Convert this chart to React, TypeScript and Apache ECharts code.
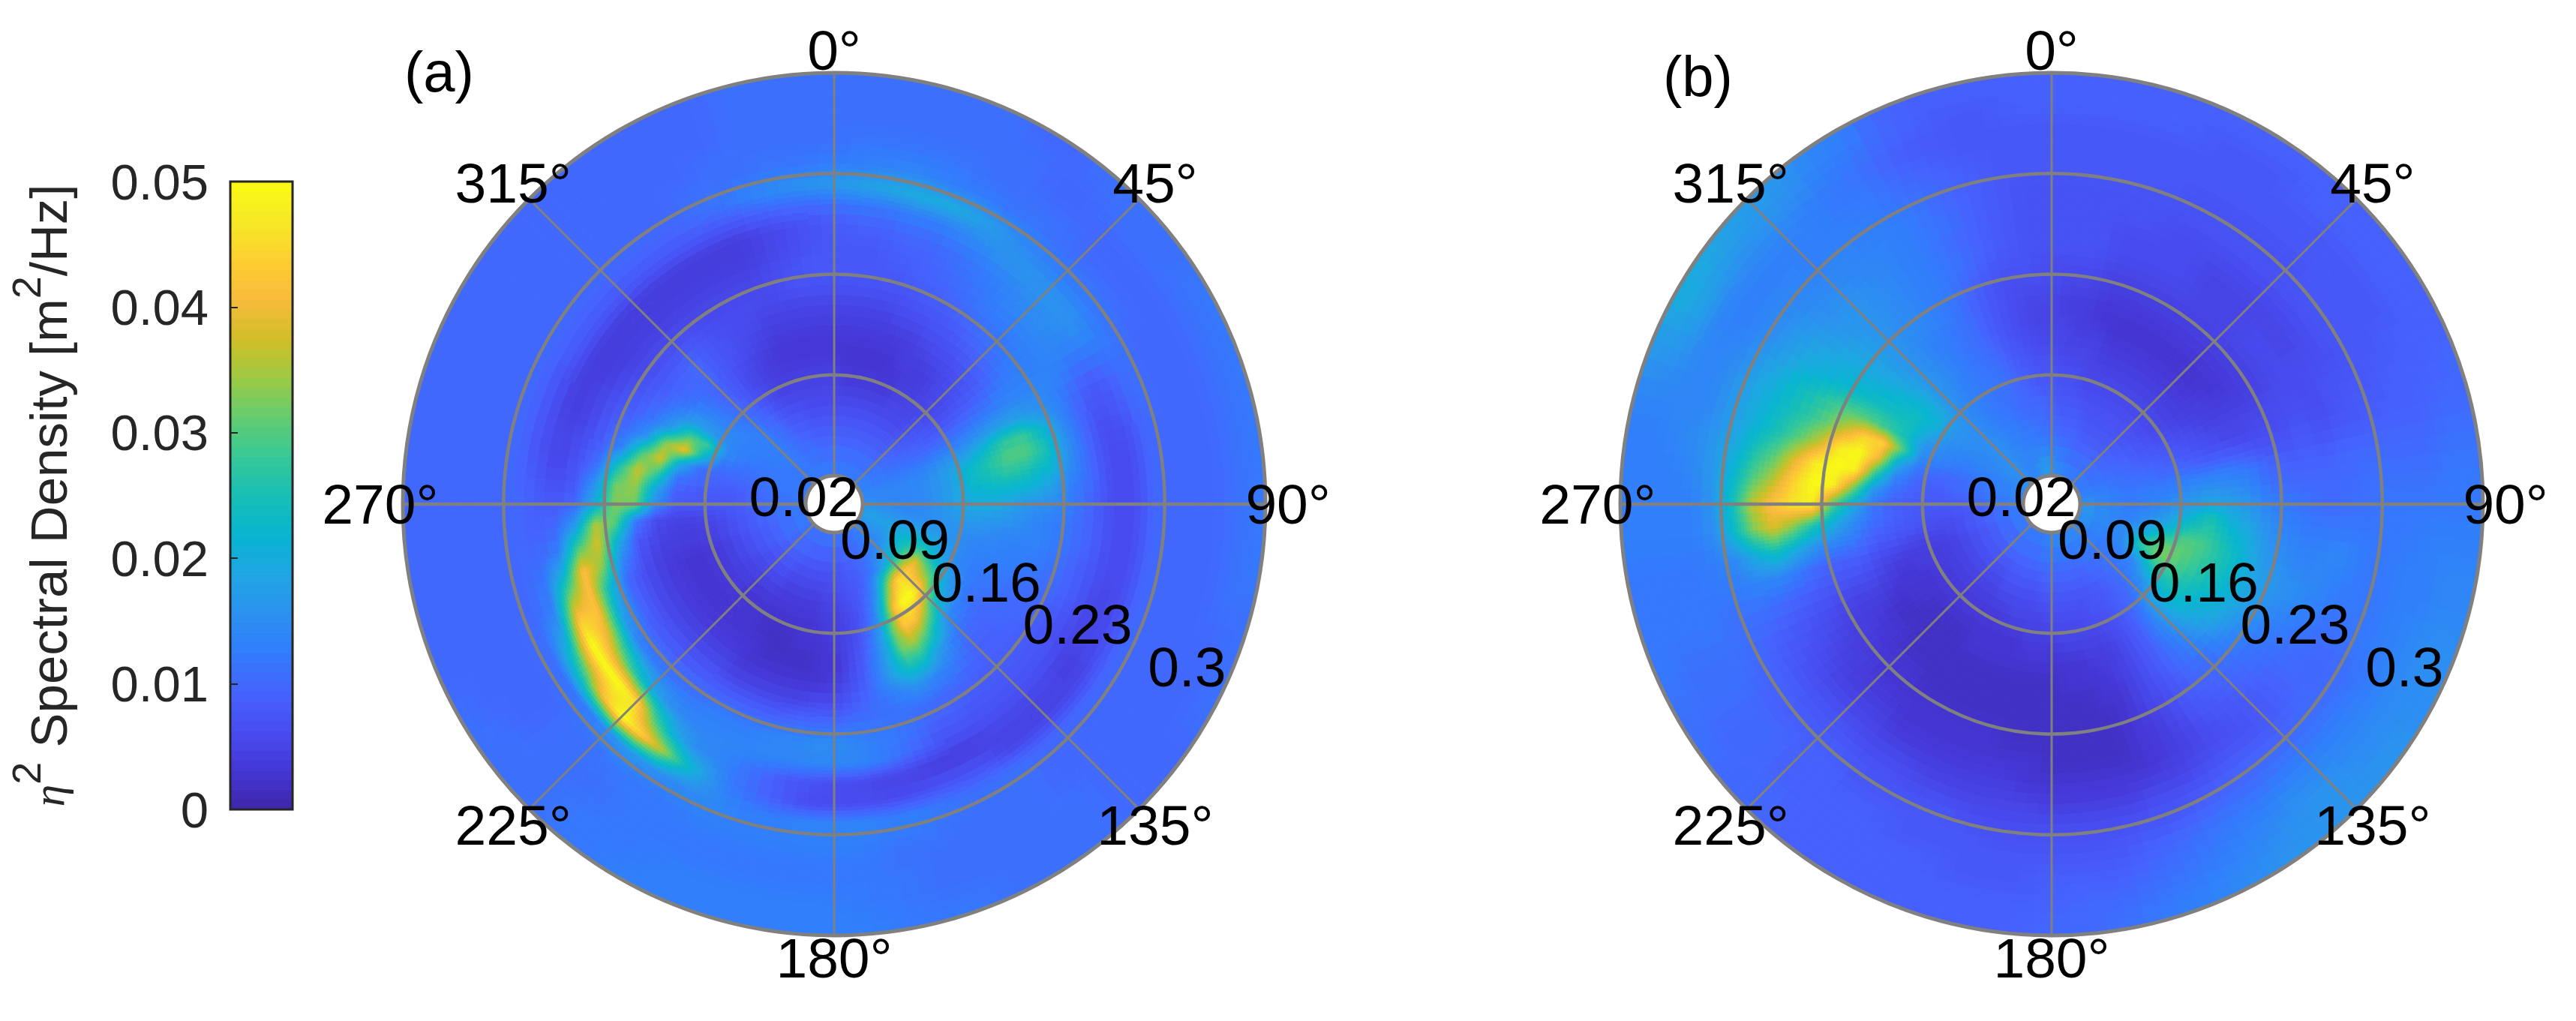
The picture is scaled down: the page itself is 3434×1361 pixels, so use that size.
import React, { useEffect, useRef } from "react";
import * as echarts from "echarts";

const FONT = "Liberation Sans";
const GRID_GRAY = "#808080";

// frequency of each ring of values, Hz
const freqs = [
  0.027, 0.041, 0.055, 0.069, 0.083, 0.097, 0.111, 0.125, 0.139, 0.153, 0.167,
  0.181, 0.195, 0.209, 0.223, 0.237, 0.251, 0.265, 0.279, 0.293,
];
const angleStep = 5;
const radiusTicks = [0.02, 0.09, 0.16, 0.23, 0.3];
const radiusTickLabels = ["0.02", "0.09", "0.16", "0.23", "0.3"];
const angleTicks = [0, 45, 90, 135, 180, 225, 270, 315];
const barTicks = [0, 0.01, 0.02, 0.03, 0.04, 0.05];

// bottom to top of the colour bar
const colormap = [
  "#3e26a8", "#4537d5", "#484df0", "#4563fd", "#327cfc", "#2b91ef", "#20a5e3",
  "#08b5d0", "#18bfb5", "#37c897", "#64cd6f", "#9dc943", "#d1bf27", "#f8ba3d",
  "#fccf30", "#f5e924", "#fbfb14",
];

// spectral density in 0.001 m2/Hz: one row per direction (0, 5, 10 ... 355 deg), one value per freq
const spokesA = [
  [12,10,8,6,5,4,3,4,5,7,8,8,8,11,17,13,11,11,11,11],
  [12,10,8,6,4,3,3,4,5,7,8,8,9,12,18,13,12,11,11,11],
  [12,10,8,6,4,3,3,4,5,7,8,8,9,12,19,14,12,11,11,11],
  [12,10,8,6,4,3,3,4,5,7,8,9,10,13,20,14,12,11,11,11],
  [12,10,8,6,4,3,3,4,6,7,9,9,10,13,20,13,12,11,11,11],
  [12,10,8,6,4,3,4,4,6,8,9,10,11,14,19,13,11,11,11,11],
  [12,10,8,6,5,4,4,5,7,8,10,11,12,15,17,12,11,11,11,10],
  [12,10,8,6,5,4,4,6,7,9,11,12,13,16,15,12,11,10,10,10],
  [12,10,8,6,5,5,5,6,8,10,12,13,14,16,14,11,11,10,10,11],
  [12,10,9,7,6,5,6,7,9,11,12,14,15,16,13,11,10,10,11,11],
  [13,11,9,8,7,6,7,8,10,12,13,14,15,16,13,11,10,10,11,11],
  [13,11,10,9,8,8,9,10,12,13,13,14,14,15,12,11,10,10,11,11],
  [13,12,11,10,10,11,12,13,14,14,14,13,11,12,12,10,10,10,11,12],
  [13,12,12,12,13,14,16,18,18,16,14,11,8,9,11,10,10,10,11,12],
  [14,13,13,14,16,18,22,27,28,22,15,10,7,8,11,10,10,10,11,12],
  [14,14,14,15,18,22,26,30,30,25,16,10,6,7,10,10,10,10,11,12],
  [14,14,14,15,18,23,25,27,25,22,15,10,6,6,10,10,10,10,11,12],
  [15,14,14,15,18,21,22,22,21,18,13,10,6,6,10,10,10,10,11,12],
  [15,14,14,15,18,20,20,18,16,15,12,9,6,6,10,10,10,10,11,12],
  [16,15,14,15,17,18,17,16,14,13,11,9,6,6,10,10,10,10,11,12],
  [17,16,15,15,16,16,15,14,14,13,11,9,6,6,10,10,10,10,11,12],
  [18,17,17,17,16,14,14,13,13,12,10,8,6,6,10,10,10,10,11,11],
  [18,18,20,20,17,14,13,13,12,11,10,8,5,6,10,10,10,10,10,11],
  [17,18,22,24,18,14,12,12,11,10,9,7,5,6,10,10,10,10,10,11],
  [16,17,24,30,22,15,12,11,10,10,8,6,5,6,10,10,10,10,10,11],
  [15,16,24,38,28,17,12,10,10,9,8,7,4,5,10,10,10,10,10,10],
  [14,15,24,42,35,20,13,10,9,9,8,7,5,5,10,10,10,10,10,10],
  [14,14,22,44,44,26,15,11,9,9,8,7,5,5,10,10,10,10,10,10],
  [13,13,19,45,50,36,22,14,11,9,8,7,5,5,10,10,10,11,11,11],
  [12,12,16,38,50,43,30,18,13,10,8,7,5,5,11,11,11,11,11,11],
  [12,11,13,27,42,43,35,24,14,10,9,7,4,7,11,11,11,11,11,11],
  [11,10,11,16,26,32,32,25,16,11,9,7,4,7,11,11,11,11,11,11],
  [11,10,9,11,14,18,20,20,14,11,11,9,4,7,12,11,11,11,11,12],
  [11,9,8,8,9,11,13,14,12,11,12,11,5,6,13,12,11,11,11,12],
  [11,9,8,7,6,7,8,9,10,11,13,13,5,6,13,12,11,12,12,12],
  [11,8,7,6,5,5,5,6,8,11,14,14,6,6,14,13,12,12,12,13],
  [11,8,7,5,4,4,3,4,6,10,15,14,6,6,14,13,12,12,13,13],
  [11,8,6,5,4,3,3,3,6,10,15,14,7,6,14,13,12,12,13,13],
  [11,8,6,4,3,3,2,3,5,10,14,14,8,8,13,13,12,12,13,13],
  [11,8,6,4,3,3,2,3,5,9,14,14,10,10,13,13,12,12,13,13],
  [11,8,6,4,3,2,2,3,5,9,13,14,12,12,14,13,12,12,13,13],
  [11,8,6,4,3,2,2,3,5,9,13,14,14,17,15,13,12,12,13,13],
  [11,9,6,4,3,2,3,3,5,9,13,14,15,24,15,12,12,12,12,13],
  [11,9,7,5,3,3,3,4,6,9,12,14,20,36,16,12,12,12,12,12],
  [11,9,7,5,3,3,3,4,6,9,12,16,30,44,17,12,11,11,12,12],
  [11,9,7,5,3,3,3,4,6,9,12,20,45,50,15,11,11,11,11,11],
  [11,9,7,5,4,3,3,4,6,9,13,26,50,42,13,11,11,11,11,11],
  [12,10,7,5,4,3,3,4,6,9,14,32,50,32,12,10,10,10,11,11],
  [12,10,8,6,4,3,3,4,6,10,17,38,50,26,11,10,10,10,10,11],
  [12,10,8,6,4,3,3,4,6,10,20,42,44,18,11,10,10,10,10,10],
  [12,10,8,6,4,3,3,4,6,10,24,42,34,13,10,10,10,10,10,10],
  [12,10,9,7,5,4,4,4,7,14,33,42,22,12,10,10,10,10,10,10],
  [12,11,9,7,5,4,4,5,8,20,38,30,13,10,10,10,10,10,10,10],
  [12,11,9,8,6,5,5,6,12,30,36,18,10,9,10,10,10,10,10,10],
  [12,11,10,8,8,8,8,15,32,33,20,10,8,9,10,10,10,10,10,10],
  [12,11,10,8,8,8,9,19,34,32,16,8,6,8,10,10,10,10,10,10],
  [12,11,10,9,9,10,12,28,37,25,11,7,5,7,10,10,10,10,10,10],
  [12,12,11,10,10,11,20,38,29,14,9,6,5,7,10,10,10,10,10,10],
  [12,12,11,11,12,22,40,33,16,11,8,5,4,7,10,10,10,10,10,10],
  [12,12,12,12,15,28,30,18,12,9,7,5,4,7,10,10,10,10,10,10],
  [12,12,12,13,14,17,18,14,10,8,6,4,4,8,10,10,10,10,10,10],
  [12,12,13,13,14,14,14,11,9,7,5,4,4,8,10,10,10,10,10,10],
  [12,12,13,13,13,12,11,10,9,7,5,4,4,8,10,10,10,10,10,10],
  [12,13,13,13,11,10,9,10,10,7,5,4,4,8,10,10,10,10,10,10],
  [12,12,12,11,10,8,8,8,8,7,5,4,4,8,10,10,10,10,10,10],
  [12,12,11,10,8,6,6,7,7,6,5,4,4,8,10,10,10,10,10,10],
  [12,11,10,8,6,5,5,6,6,6,5,4,4,8,10,10,10,10,10,10],
  [12,11,9,7,5,4,4,5,6,6,5,4,4,8,11,11,10,10,10,10],
  [12,11,9,7,5,4,3,4,5,6,5,4,4,8,12,11,11,10,10,10],
  [12,10,8,6,5,4,3,4,5,6,6,5,5,9,14,11,11,11,11,11],
  [12,10,8,6,5,4,3,4,5,7,7,6,6,10,15,12,11,11,11,11],
  [12,10,8,6,5,4,3,4,5,7,8,7,7,10,16,12,11,11,11,11],
];

const spokesB = [
  [16,12,10,9,8,7,6,5,5,6,6,7,7,7,7,8,8,8,9,9],
  [15,12,10,8,7,6,5,5,4,5,6,7,7,7,7,8,8,8,9,9],
  [14,11,9,8,7,6,5,4,4,5,6,7,7,7,7,8,8,8,9,9],
  [14,11,9,8,6,5,5,4,3,4,5,6,6,7,7,8,8,8,9,9],
  [13,10,9,7,6,5,4,3,3,4,5,6,6,7,7,8,8,8,9,9],
  [13,10,8,7,6,5,4,3,3,4,5,6,6,6,7,7,8,8,8,9],
  [12,10,8,7,6,5,4,3,3,4,5,6,6,6,7,7,8,8,8,9],
  [12,10,8,7,6,5,4,3,3,4,5,5,5,6,7,7,8,8,8,9],
  [12,10,8,7,6,5,4,3,3,4,5,5,5,6,7,7,8,8,9,9],
  [12,10,8,7,6,5,4,3,3,4,5,5,5,6,7,7,8,8,9,9],
  [12,10,9,7,6,5,4,3,3,4,5,6,5,6,7,8,8,8,9,9],
  [12,10,9,8,6,5,4,4,3,4,5,6,5,6,7,8,8,8,9,9],
  [12,11,10,8,7,6,5,4,4,4,5,6,6,6,7,8,8,8,9,9],
  [12,11,10,9,8,7,6,5,5,5,6,6,6,7,7,8,8,9,9,9],
  [13,12,11,10,9,8,7,6,5,6,6,7,6,7,8,8,9,9,9,10],
  [13,12,11,11,10,10,9,9,8,7,7,8,7,8,8,9,9,9,10,10],
  [14,13,12,12,12,13,13,13,12,10,9,9,9,10,10,10,10,10,11,11],
  [15,13,12,13,13,15,16,15,14,11,10,10,10,10,11,11,11,11,12,12],
  [15,13,12,13,15,17,19,18,16,13,12,11,10,11,11,12,12,12,12,12],
  [16,14,13,14,17,21,25,21,18,15,13,12,12,12,12,12,12,13,13,13],
  [16,14,13,16,20,25,27,23,20,16,14,13,14,14,12,12,13,13,14,14],
  [16,14,14,19,25,30,29,25,21,17,15,14,14,13,12,12,13,13,14,14],
  [15,14,15,24,31,31,28,25,21,18,16,15,14,12,12,12,13,14,15,15],
  [15,13,15,27,33,30,27,24,21,18,15,14,12,11,11,12,13,14,15,15],
  [15,13,14,20,28,28,25,22,20,17,14,12,11,10,10,11,12,14,15,15],
  [14,12,13,14,22,25,23,21,19,15,12,11,10,10,10,11,13,14,15,16],
  [14,12,12,13,16,21,21,19,16,13,11,10,9,9,10,11,13,14,15,16],
  [14,12,11,11,13,17,17,15,13,11,10,9,8,8,9,11,13,15,16,16],
  [14,12,11,10,10,12,13,12,11,10,9,8,7,7,9,11,13,15,16,16],
  [14,12,10,9,9,9,9,9,9,8,8,7,6,7,9,10,12,14,15,16],
  [14,12,10,8,8,7,7,7,7,6,6,5,5,6,8,10,12,13,14,15],
  [14,11,9,8,7,6,5,5,5,5,4,4,4,5,7,9,11,12,13,14],
  [14,11,9,7,7,5,4,4,3,3,3,3,3,5,7,8,10,11,12,13],
  [14,11,9,7,6,5,4,3,3,2,2,2,3,4,6,8,9,10,11,12],
  [14,11,9,7,6,5,3,3,2,2,2,2,3,4,6,7,8,9,10,11],
  [14,11,9,7,6,5,3,3,2,2,2,2,3,4,6,7,8,9,10,10],
  [14,11,9,7,6,4,3,2,2,2,2,2,3,4,6,7,8,9,9,10],
  [13,11,9,7,5,4,3,2,2,2,2,3,3,5,6,7,8,8,9,9],
  [13,11,8,6,5,4,3,2,2,2,2,3,4,5,6,7,8,8,9,9],
  [12,10,8,6,5,3,3,2,2,2,3,3,4,5,6,8,8,8,9,9],
  [12,10,8,6,5,3,3,2,2,2,3,3,4,5,7,8,8,9,9,9],
  [12,10,8,6,4,3,3,2,2,2,3,3,4,5,7,8,8,9,9,9],
  [12,10,8,6,4,3,3,2,2,2,3,3,4,6,7,8,9,9,9,9],
  [12,10,7,5,4,3,2,2,2,2,3,3,4,6,7,8,9,9,9,9],
  [12,10,7,5,4,3,2,2,2,3,3,4,5,6,8,9,9,9,9,9],
  [12,10,7,5,4,3,2,2,2,3,3,4,5,7,8,9,9,9,10,10],
  [12,9,7,5,4,3,2,2,3,3,4,4,5,7,8,9,10,10,10,10],
  [12,9,7,5,4,3,3,2,3,4,4,5,6,7,9,9,10,10,10,11],
  [12,9,7,5,4,3,3,3,4,4,5,6,7,8,9,10,11,11,11,11],
  [12,9,7,5,4,4,3,4,5,5,6,7,8,9,10,11,11,11,11,12],
  [12,9,7,5,4,4,4,5,7,7,8,9,10,11,11,11,12,12,12,12],
  [12,10,8,6,5,5,6,7,9,9,10,12,14,14,13,12,12,12,12,12],
  [12,10,8,6,6,7,8,9,12,14,16,20,24,20,15,13,12,12,12,12],
  [12,10,8,7,7,8,9,11,15,20,26,33,38,32,22,15,13,13,13,13],
  [13,11,9,8,8,8,9,12,20,30,48,46,42,36,24,16,13,13,13,13],
  [13,12,10,9,8,9,11,17,33,48,50,44,36,30,22,17,14,13,13,13],
  [13,12,11,10,9,10,14,28,48,50,47,39,31,26,20,17,15,14,13,13],
  [14,13,11,10,10,12,20,40,50,47,37,31,26,22,19,16,14,14,14,14],
  [14,13,12,12,13,15,30,44,44,37,31,27,24,21,19,16,14,14,15,16],
  [14,13,13,13,14,16,24,28,30,30,28,25,23,20,18,15,14,14,17,18],
  [15,14,14,14,15,19,24,24,24,23,22,21,20,18,16,14,13,14,18,20],
  [15,15,14,15,16,21,23,22,21,20,20,19,18,17,15,14,13,14,17,19],
  [15,15,15,15,16,19,20,19,18,18,18,17,16,15,14,14,13,14,16,18],
  [15,15,15,15,15,16,16,16,16,16,16,16,16,15,14,13,13,14,16,17],
  [15,15,15,14,14,14,15,15,14,15,15,15,15,14,14,13,13,13,15,16],
  [14,14,14,13,13,13,13,13,13,14,14,14,14,14,13,13,12,12,13,14],
  [14,14,13,12,12,12,12,12,12,13,13,13,13,13,13,12,12,11,12,13],
  [14,13,13,12,11,12,11,11,11,11,12,12,12,12,12,11,10,9,10,10],
  [15,13,12,11,11,11,10,9,9,9,10,11,10,11,10,10,9,8,9,9],
  [16,13,12,10,10,9,8,7,7,7,8,9,9,9,9,9,8,8,8,9],
  [17,13,11,10,9,8,7,6,6,6,7,8,8,8,8,8,8,8,8,9],
  [17,13,11,10,8,7,6,5,5,6,7,7,7,7,7,8,8,8,9,9],
];

const MAX_VALUE = 50; // top of the colour bar, in the units of the spokes

const parseHex = (h: string) => [1, 3, 5].map((i) => parseInt(h.slice(i, i + 2), 16));
const colormapRgb = colormap.map(parseHex);

function colorOf(value: number) {
  const t = Math.min(Math.max(value / MAX_VALUE, 0), 1) * (colormapRgb.length - 1);
  const lo = Math.min(Math.floor(t), colormapRgb.length - 2);
  const f = t - lo;
  const c = colormapRgb[lo].map((v, k) => Math.round(v + (colormapRgb[lo + 1][k] - v) * f));
  return `rgb(${c[0]},${c[1]},${c[2]})`;
}

// like MATLAB's "shading interp": the colour varies inside a cell between its four corner values
function renderShadedCell(rows: number[][]) {
  return (params: any, api: any) => {
    const ring = params.dataIndex % freqs.length;
    const spoke = Math.floor(params.dataIndex / freqs.length);
    const nextSpoke = (spoke + 1) % rows.length;
    const nextRing = Math.min(ring + 1, freqs.length - 1);
    const v00 = rows[spoke][ring];
    const v10 = rows[spoke][nextRing];
    const v01 = rows[nextSpoke][ring];
    const v11 = rows[nextSpoke][nextRing];
    const a0 = spoke * angleStep;
    const f0 = freqs[ring];
    const f1 = ring === freqs.length - 1 ? f0 + 1 : freqs[nextRing];
    const inner = ring === 0 ? radiusTicks[0] : f0;
    const outer = ring === freqs.length - 1 ? radiusTicks[4] : f1;

    const nr = Math.min(Math.max(2, Math.ceil(Math.max(Math.abs(v10 - v00), Math.abs(v11 - v01)) / 1.5)), 7);
    const na = Math.min(Math.max(2, Math.ceil(Math.max(Math.abs(v01 - v00), Math.abs(v11 - v10)) / 1.5)), 7);
    const children: any[] = [];
    for (let i = 0; i < nr; i++) {
      const fa = inner + ((outer - inner) * i) / nr;
      const fb = inner + ((outer - inner) * (i + 1)) / nr;
      const t = Math.min(Math.max(((fa + fb) / 2 - f0) / (f1 - f0), 0), 1);
      for (let j = 0; j < na; j++) {
        const u = (j + 0.5) / na;
        const value = (1 - t) * (1 - u) * v00 + t * (1 - u) * v10 + (1 - t) * u * v01 + t * u * v11;
        const aa = a0 + (angleStep * j) / na;
        const ab = a0 + (angleStep * (j + 1)) / na;
        const color = colorOf(value);
        children.push({
          type: "polygon",
          shape: {
            points: [
              api.coord([fa, aa]).slice(0, 2),
              api.coord([fb, aa]).slice(0, 2),
              api.coord([fb, ab]).slice(0, 2),
              api.coord([fa, ab]).slice(0, 2),
            ],
          },
          style: { fill: color, stroke: color, lineWidth: 1 },
        });
      }
    }
    return { type: "group", children };
  };
}

// centre of the polar system, taken from two opposite points of one ring
function polarCentre(api: any, k: number) {
  const a = api.coord([radiusTicks[4], 0]);
  const b = api.coord([radiusTicks[4], 180]);
  return (a[k] + b[k]) / 2;
}

function panelSeries(rows: number[][], polarIndex: number) {
  const cells: number[][] = [];
  rows.forEach((row, s) => row.forEach((v, r) => cells.push([freqs[r], s * angleStep, v * 0.001])));
  const common = { type: "custom", coordinateSystem: "polar", polarIndex, encode: { radius: 0, angle: 1 }, silent: true };
  return [
    { ...common, z: 1, data: cells, renderItem: renderShadedCell(rows) },
    {
      // the rings of the radius axis, they start at 0.02 so the axis' own split lines can't do it
      ...common,
      z: 4,
      data: radiusTicks.slice(1, 4).map((f) => [f, 0]),
      renderItem: (_: any, api: any) => {
        const c = api.coord([api.value(0), 0]);
        return {
          type: "circle",
          shape: { cx: polarCentre(api, 0), cy: polarCentre(api, 1), r: c[2] },
          style: { fill: "none", stroke: GRID_GRAY, lineWidth: 4.5 },
        };
      },
    },
    {
      // the horizontal spokes are a bit heavier than the others in the figure
      ...common,
      z: 4,
      data: [[radiusTicks[0], 90], [radiusTicks[0], 270]],
      renderItem: (_: any, api: any) => {
        const a = api.coord([radiusTicks[0], api.value(1)]);
        const b = api.coord([radiusTicks[4], api.value(1)]);
        return {
          type: "line",
          shape: { x1: a[0], y1: a[1], x2: b[0], y2: b[1] },
          style: { stroke: GRID_GRAY, lineWidth: 4.5 },
        };
      },
    },
    {
      ...common,
      z: 6,
      data: angleTicks.map((a) => [0.3157, a]),
      renderItem: (params: any, api: any) => {
        const p = api.coord([api.value(0), api.value(1)]);
        return {
          type: "text",
          x: p[0],
          y: p[1],
          style: {
            text: `${angleTicks[params.dataIndex]}°`,
            fontFamily: FONT,
            fontSize: 75,
            fill: "#000",
            align: "center",
            verticalAlign: "middle",
          },
        };
      },
    },
    {
      ...common,
      z: 6,
      data: radiusTicks.map((f) => [f, 115]),
      renderItem: (params: any, api: any) => {
        const p = api.coord([api.value(0), api.value(1)]);
        const last = params.dataIndex === radiusTicks.length - 1;
        return {
          type: "text",
          x: p[0] + (last ? -103 : -148),
          y: p[1] - 26,
          style: {
            text: radiusTickLabels[params.dataIndex],
            fontFamily: FONT,
            fontSize: 75,
            fill: "#000",
            align: "left",
            verticalAlign: "middle",
          },
        };
      },
    },
  ];
}

const barLevels = Array.from({ length: 64 }, (_, i) => (i + 0.5) / 64);

const polarBox = (cx: number) => ({ center: [cx, 672], radius: [38, 575] });

const polarAxes = (polarIndex: number) => ({
  angleAxis: {
    polarIndex,
    type: "value",
    min: 0,
    max: 360,
    interval: 45,
    startAngle: 90,
    clockwise: true,
    z: 4,
    axisLine: { lineStyle: { color: GRID_GRAY, width: 5 } },
    axisTick: { show: false },
    axisLabel: { show: false },
    splitLine: { lineStyle: { color: GRID_GRAY, width: 3 } },
    minorSplitLine: { show: false },
  },
  radiusAxis: {
    polarIndex,
    type: "value",
    min: radiusTicks[0],
    max: radiusTicks[4],
    axisLine: { show: false },
    axisTick: { show: false },
    axisLabel: { show: false },
    splitLine: { show: false },
  },
});

const App = () => {
  const chartRef = useRef<HTMLDivElement>(null);
  useEffect(() => {
    const chart = echarts.init(chartRef.current as HTMLDivElement, undefined, { renderer: "svg" });
    const a = polarAxes(0);
    const b = polarAxes(1);
    chart.setOption({
      animation: false,
      backgroundColor: "#fff",
      polar: [polarBox(1112), polarBox(2735)],
      angleAxis: [a.angleAxis, b.angleAxis],
      radiusAxis: [a.radiusAxis, b.radiusAxis],
      grid: {
        left: 307,
        top: 242,
        width: 83,
        height: 837,
        show: true,
        z: 5,
        borderColor: "#262626",
        borderWidth: 3,
      },
      xAxis: { type: "value", min: 0, max: 1, show: false },
      yAxis: {
        type: "value",
        min: barTicks[0],
        max: barTicks[5],
        interval: 0.01,
        z: 6,
        axisLine: { show: false },
        axisTick: { inside: true, length: 10, lineStyle: { color: "#262626", width: 2 } },
        splitLine: { show: false },
        axisLabel: { fontFamily: FONT, fontSize: 67, color: "#262626", margin: 29 },
        name: "{eta|η}{sup|2} Spectral Density [m{sup|2}/Hz]",
        nameLocation: "middle",
        nameRotate: 90,
        nameGap: 185,
        nameTextStyle: {
          fontFamily: FONT,
          fontSize: 69,
          color: "#262626",
          rich: {
            eta: { fontFamily: "Liberation Serif", fontStyle: "italic", fontSize: 60, color: "#262626" },
            sup: { fontFamily: FONT, fontSize: 54, color: "#262626", padding: [0, 0, 60, 0] },
          },
        },
      },
      graphic: [
        {
          type: "text",
          x: 539,
          y: 95,
          style: { text: "(a)", fontFamily: FONT, fontSize: 76, fill: "#000", align: "left", verticalAlign: "middle" },
        },
        {
          type: "text",
          x: 2217,
          y: 101,
          style: { text: "(b)", fontFamily: FONT, fontSize: 76, fill: "#000", align: "left", verticalAlign: "middle" },
        },
      ],
      series: [
        ...panelSeries(spokesA, 0),
        ...panelSeries(spokesB, 1),
        {
          type: "custom",
          coordinateSystem: "cartesian2d",
          silent: true,
          z: 1,
          data: barLevels.map((t) => [0.5, t * barTicks[5]]),
          renderItem: (params: any, api: any) => {
            const i = params.dataIndex;
            const lo = api.coord([0, (i / 64) * barTicks[5]]);
            const hi = api.coord([1, ((i + 1) / 64) * barTicks[5]]);
            const color = colorOf(barLevels[i] * MAX_VALUE);
            return {
              type: "rect",
              shape: { x: lo[0], y: hi[1], width: hi[0] - lo[0], height: lo[1] - hi[1] },
              style: { fill: color, stroke: color, lineWidth: 1 },
            };
          },
        },
      ],
    });
    return () => {
      chart.dispose();
    };
  }, []);

  return (
    <div
      ref={chartRef}
      style={{ position: "absolute", left: 0, top: 0, width: 3434, height: 1361 }}
    />
  );
};

export default App;
